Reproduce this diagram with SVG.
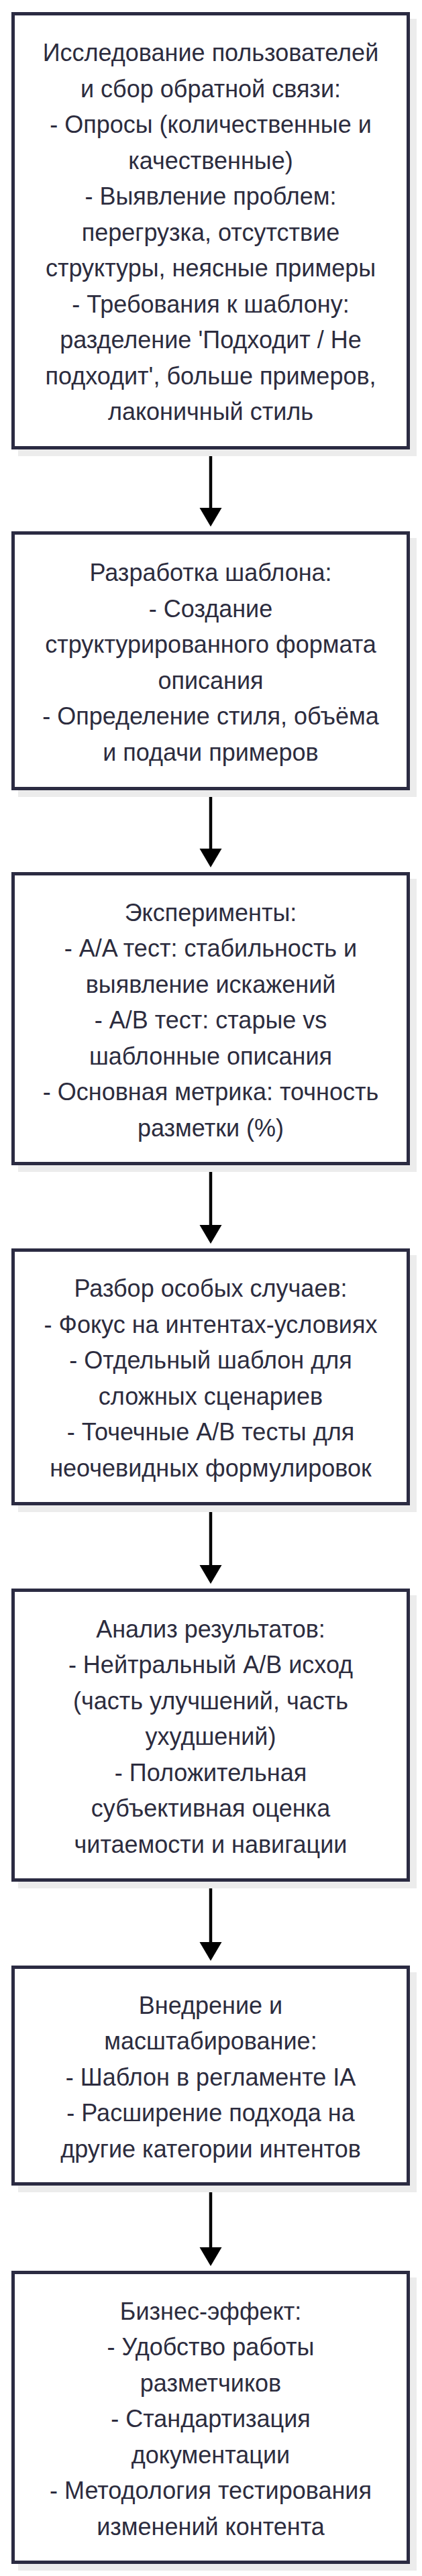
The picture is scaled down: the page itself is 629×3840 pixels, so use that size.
<svg xmlns="http://www.w3.org/2000/svg" width="629" height="3840" viewBox="0 0 629 3840">
<style>
.shadow{fill:#ececec;stroke:none}
.box{fill:#ffffff;stroke:#2b2b42;stroke-width:5}
.lbl{font-family:"Liberation Sans",Arial,sans-serif;font-size:36px;fill:#2c2c3e;text-anchor:middle;dominant-baseline:central}
.edge{stroke:#000000;stroke-width:4.5;fill:none;marker-end:url(#arrow)}
</style>
<defs>
<marker id="arrow" markerUnits="userSpaceOnUse" markerWidth="34" markerHeight="34" refX="18" refY="16.5" orient="auto" viewBox="0 0 34 34">
<path d="M0,0 L28,16.5 L0,33 Z" fill="#000000"/>
</marker>
</defs>
<rect width="629" height="3840" fill="#ffffff"/>
<g id="connectors">
<path class="edge" d="M314,670 V775"/>
<path class="edge" d="M314,1178 V1283"/>
<path class="edge" d="M314,1737 V1844"/>
<path class="edge" d="M314,2244 V2351"/>
<path class="edge" d="M314,2805 V2913"/>
<path class="edge" d="M314,3258 V3368"/>
</g>
<g id="node1">
<rect class="shadow" x="27" y="28" width="594" height="652"/>
<rect class="box" x="19.5" y="20.5" width="589" height="647"/>
<text class="lbl"><tspan x="314" y="78">Исследование пользователей</tspan><tspan x="314" dy="53.5">и сбор обратной связи:</tspan><tspan x="314" dy="53.5">- Опросы (количественные и</tspan><tspan x="314" dy="53.5">качественные)</tspan><tspan x="314" dy="53.5">- Выявление проблем:</tspan><tspan x="314" dy="53.5">перегрузка, отсутствие</tspan><tspan x="314" dy="53.5">структуры, неясные примеры</tspan><tspan x="314" dy="53.5">- Требования к шаблону:</tspan><tspan x="314" dy="53.5">разделение 'Подходит / Не</tspan><tspan x="314" dy="53.5">подходит', больше примеров,</tspan><tspan x="314" dy="53.5">лаконичный стиль</tspan></text>
</g>
<g id="node2">
<rect class="shadow" x="27" y="802" width="594" height="386"/>
<rect class="box" x="19.5" y="794.5" width="589" height="381"/>
<text class="lbl"><tspan x="314" y="853">Разработка шаблона:</tspan><tspan x="314" dy="53.5">- Создание</tspan><tspan x="314" dy="53.5">структурированного формата</tspan><tspan x="314" dy="53.5">описания</tspan><tspan x="314" dy="53.5">- Определение стиля, объёма</tspan><tspan x="314" dy="53.5">и подачи примеров</tspan></text>
</g>
<g id="node3">
<rect class="shadow" x="27" y="1310" width="594" height="437"/>
<rect class="box" x="19.5" y="1302.5" width="589" height="432"/>
<text class="lbl"><tspan x="314" y="1359.5">Эксперименты:</tspan><tspan x="314" dy="53.5">- A/A тест: стабильность и</tspan><tspan x="314" dy="53.5">выявление искажений</tspan><tspan x="314" dy="53.5">- A/B тест: старые vs</tspan><tspan x="314" dy="53.5">шаблонные описания</tspan><tspan x="314" dy="53.5">- Основная метрика: точность</tspan><tspan x="314" dy="53.5">разметки (%)</tspan></text>
</g>
<g id="node4">
<rect class="shadow" x="27" y="1871" width="594" height="383"/>
<rect class="box" x="19.5" y="1863.5" width="589" height="378"/>
<text class="lbl"><tspan x="314" y="1920">Разбор особых случаев:</tspan><tspan x="314" dy="53.5">- Фокус на интентах-условиях</tspan><tspan x="314" dy="53.5">- Отдельный шаблон для</tspan><tspan x="314" dy="53.5">сложных сценариев</tspan><tspan x="314" dy="53.5">- Точечные A/B тесты для</tspan><tspan x="314" dy="53.5">неочевидных формулировок</tspan></text>
</g>
<g id="node5">
<rect class="shadow" x="27" y="2378" width="594" height="437"/>
<rect class="box" x="19.5" y="2370.5" width="589" height="432"/>
<text class="lbl"><tspan x="314" y="2427.5">Анализ результатов:</tspan><tspan x="314" dy="53.5">- Нейтральный A/B исход</tspan><tspan x="314" dy="53.5">(часть улучшений, часть</tspan><tspan x="314" dy="53.5">ухудшений)</tspan><tspan x="314" dy="53.5">- Положительная</tspan><tspan x="314" dy="53.5">субъективная оценка</tspan><tspan x="314" dy="53.5">читаемости и навигации</tspan></text>
</g>
<g id="node6">
<rect class="shadow" x="27" y="2940" width="594" height="328"/>
<rect class="box" x="19.5" y="2932.5" width="589" height="323"/>
<text class="lbl"><tspan x="314" y="2988.5">Внедрение и</tspan><tspan x="314" dy="53.5">масштабирование:</tspan><tspan x="314" dy="53.5">- Шаблон в регламенте IA</tspan><tspan x="314" dy="53.5">- Расширение подхода на</tspan><tspan x="314" dy="53.5">другие категории интентов</tspan></text>
</g>
<g id="node7">
<rect class="shadow" x="27" y="3395" width="594" height="437"/>
<rect class="box" x="19.5" y="3387.5" width="589" height="432"/>
<text class="lbl"><tspan x="314" y="3444.5">Бизнес-эффект:</tspan><tspan x="314" dy="53.5">- Удобство работы</tspan><tspan x="314" dy="53.5">разметчиков</tspan><tspan x="314" dy="53.5">- Стандартизация</tspan><tspan x="314" dy="53.5">документации</tspan><tspan x="314" dy="53.5">- Методология тестирования</tspan><tspan x="314" dy="53.5">изменений контента</tspan></text>
</g>
</svg>
